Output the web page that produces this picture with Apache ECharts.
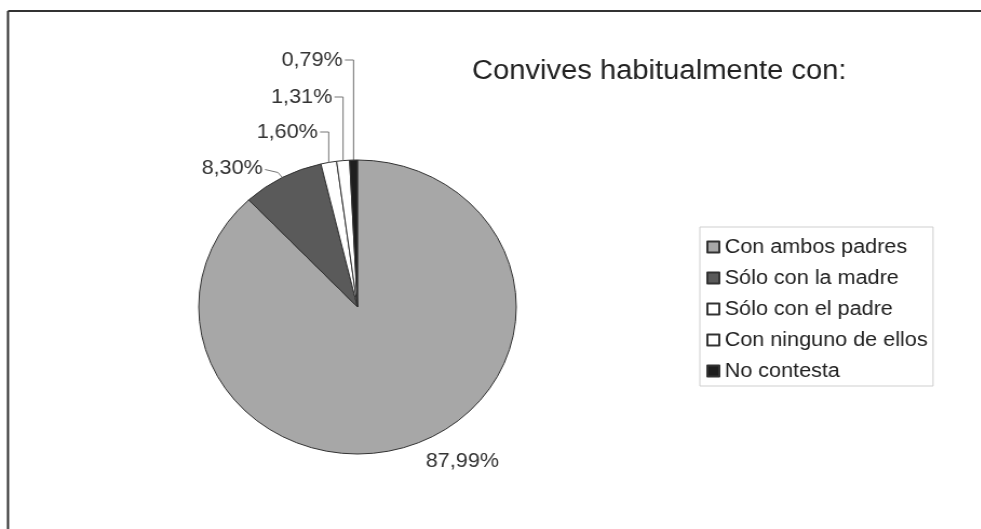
<!DOCTYPE html>
<html>
<head>
<meta charset="utf-8">
<script src="https://cdn.jsdelivr.net/npm/echarts@6/dist/echarts.min.js"></script>
<style>
html,body{margin:0;padding:0;background:#fff;overflow:hidden;}
#c{width:908px;height:529px;transform:scaleX(1.08);transform-origin:0 0;}
</style>
</head>
<body>
<div id="c"></div>
<script>
const categories = ['Con ambos padres', 'Sólo con la madre', 'Sólo con el padre', 'Con ninguno de ellos', 'No contesta'];
const values = [87.99, 8.30, 1.60, 1.31, 0.79];
const valueLabels = ['87,99%', '8,30%', '1,60%', '1,31%', '0,79%'];
const titleText = 'Convives habitualmente con:';
const sliceColors = ['#a7a7a7', '#5a5a5a', '#ffffff', '#ffffff', '#1e1e1e'];

const CX = 331, CY = 307, R = 147;
const total = values.reduce((a, b) => a + b, 0);
function arcPoint(i) {
  let start = 0;
  for (let k = 0; k < i; k++) start += values[k];
  const mid = (start + values[i] / 2) / total;
  const th = mid * Math.PI * 2;
  return [CX + R * Math.sin(th), CY - R * Math.cos(th)];
}
const levels = {2: 132, 3: 97, 4: 60};

const chart = echarts.init(document.getElementById('c'));
chart.setOption({
  animation: false,
  backgroundColor: '#fff',
  textStyle: {fontFamily: 'Liberation Sans, Arial, sans-serif'},
  title: {
    text: titleText,
    left: 437, top: 58, padding: 0,
    textStyle: {fontSize: 27, fontWeight: 'normal', color: '#222', fontFamily: 'Liberation Sans, Arial, sans-serif'}
  },
  graphic: [
    {type: 'line', shape: {x1: 7.4, y1: 11, x2: 908, y2: 11}, style: {stroke: '#333', lineWidth: 2}, silent: true},
    {type: 'line', shape: {x1: 7.4, y1: 11, x2: 7.4, y2: 529}, style: {stroke: '#333', lineWidth: 2}, silent: true}
  ],
  legend: {
    orient: 'vertical',
    left: 648, top: 227,
    padding: [10, 5, 5, 6],
    backgroundColor: '#fff',
    borderColor: '#cfcfcf', borderWidth: 1,
    itemWidth: 11, itemHeight: 11, itemGap: 11,
    icon: 'rect',
    selectedMode: false,
    textStyle: {fontSize: 20, color: '#222', lineHeight: 20, fontFamily: 'Liberation Sans, Arial, sans-serif'},
    data: categories
  },
  series: [{
    type: 'pie',
    center: [CX, CY],
    radius: R,
    startAngle: 90,
    clockwise: true,
    avoidLabelOverlap: false,
    silent: true,
    emphasis: {disabled: true},
    itemStyle: {borderColor: '#333', borderWidth: 1},
    label: {
      show: true, position: 'outside',
      fontSize: 20, color: '#333',
      fontFamily: 'Liberation Sans, Arial, sans-serif',
      formatter: p => valueLabels[p.dataIndex]
    },
    labelLine: {show: true, length: 5, length2: 5, lineStyle: {color: '#777', width: 1}},
    labelLayout: function (params) {
      const i = params.dataIndex;
      const p = arcPoint(i);
      if (i === 0) {
        return {x: p[0] + 43, y: p[1] + 18, align: 'center', verticalAlign: 'middle'};
      }
      if (i === 1) {
        return {x: p[0] - 18, y: p[1] - 9, align: 'right', verticalAlign: 'middle',
          labelLinePoints: [[p[0], p[1]], [p[0] - 4, p[1] - 5], [p[0] - 16, p[1] - 8]]};
      }
      const lv = levels[i];
      return {x: p[0] - 10, y: lv, align: 'right', verticalAlign: 'middle',
        labelLinePoints: [[p[0], p[1]], [p[0], lv], [p[0] - 8, lv]]};
    },
    data: categories.map((c, i) => ({
      name: c, value: values[i],
      itemStyle: {color: sliceColors[i]},
      labelLine: i === 0 ? {show: false} : undefined
    }))
  }]
});
</script>
</body>
</html>
